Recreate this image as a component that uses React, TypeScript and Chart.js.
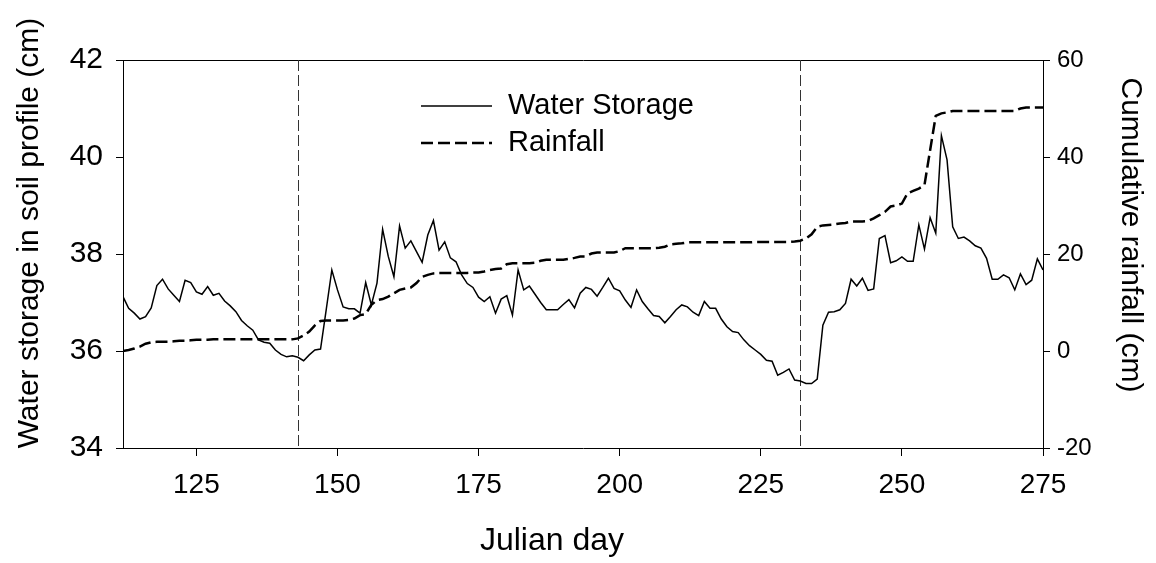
import React, { useEffect, useRef } from "react";
import { Chart, registerables } from "chart.js";

Chart.register(...registerables);

const days = [
  112, 113, 114, 115, 116, 117, 118, 119, 120, 121, 122, 123, 124, 125, 126, 127, 128, 129, 130, 131,
  132, 133, 134, 135, 136, 137, 138, 139, 140, 141, 142, 143, 144, 145, 146, 147, 148, 149, 150, 151,
  152, 153, 154, 155, 156, 157, 158, 159, 160, 161, 162, 163, 164, 165, 166, 167, 168, 169, 170, 171,
  172, 173, 174, 175, 176, 177, 178, 179, 180, 181, 182, 183, 184, 185, 186, 187, 188, 189, 190, 191,
  192, 193, 194, 195, 196, 197, 198, 199, 200, 201, 202, 203, 204, 205, 206, 207, 208, 209, 210, 211,
  212, 213, 214, 215, 216, 217, 218, 219, 220, 221, 222, 223, 224, 225, 226, 227, 228, 229, 230, 231,
  232, 233, 234, 235, 236, 237, 238, 239, 240, 241, 242, 243, 244, 245, 246, 247, 248, 249, 250, 251,
  252, 253, 254, 255, 256, 257, 258, 259, 260, 261, 262, 263, 264, 265, 266, 267, 268, 269, 270, 271,
  272, 273, 274, 275,
];

const waterStorage = [
  37.12, 36.88, 36.78, 36.66, 36.71, 36.89, 37.35, 37.48, 37.28, 37.15, 37.02, 37.46, 37.41, 37.22, 37.17, 37.33, 37.15, 37.19, 37.03, 36.93,
  36.81, 36.63, 36.52, 36.43, 36.23, 36.18, 36.16, 36.02, 35.93, 35.88, 35.90, 35.87, 35.80, 35.92, 36.02, 36.04, 36.85, 37.67, 37.26, 36.91,
  36.87, 36.87, 36.78, 37.41, 36.95, 37.40, 38.51, 37.95, 37.53, 38.58, 38.12, 38.27, 38.05, 37.83, 38.39, 38.69, 38.08, 38.25, 37.92, 37.84,
  37.57, 37.39, 37.31, 37.11, 37.02, 37.12, 36.78, 37.07, 37.14, 36.74, 37.67, 37.26, 37.34, 37.17, 37.00, 36.85, 36.85, 36.85, 36.96, 37.06,
  36.89, 37.19, 37.31, 37.27, 37.13, 37.31, 37.50, 37.29, 37.24, 37.05, 36.90, 37.26, 37.02, 36.87, 36.73, 36.71, 36.58, 36.71, 36.85, 36.95,
  36.91, 36.80, 36.73, 37.02, 36.88, 36.88, 36.66, 36.50, 36.40, 36.38, 36.23, 36.11, 36.02, 35.93, 35.81, 35.79, 35.50, 35.56, 35.63, 35.40,
  35.38, 35.33, 35.33, 35.42, 36.53, 36.80, 36.81, 36.85, 36.98, 37.48, 37.34, 37.50, 37.25, 37.28, 38.32, 38.38, 37.82, 37.86, 37.94, 37.85,
  37.85, 38.60, 38.10, 38.75, 38.43, 40.44, 39.94, 38.56, 38.32, 38.35, 38.27, 38.17, 38.12, 37.91, 37.48, 37.48, 37.57, 37.51, 37.26, 37.59,
  37.37, 37.46, 37.90, 37.67,
];

const rainfall = [
  0.0, 0.2, 0.5, 0.9, 1.5, 1.8, 1.9, 1.9, 1.9, 2.0, 2.1, 2.1, 2.2, 2.3, 2.3, 2.3, 2.4, 2.4, 2.4, 2.4,
  2.4, 2.4, 2.4, 2.4, 2.4, 2.4, 2.4, 2.4, 2.4, 2.4, 2.4, 2.6, 3.2, 4.0, 5.3, 6.2, 6.3, 6.3, 6.3, 6.3,
  6.4, 6.7, 7.4, 7.6, 9.5, 10.5, 10.7, 11.2, 11.9, 12.6, 12.9, 13.1, 14.0, 15.3, 15.7, 16.0, 16.1, 16.1, 16.1, 16.1,
  16.1, 16.1, 16.2, 16.2, 16.4, 16.7, 16.9, 17.0, 17.9, 18.1, 18.1, 18.1, 18.1, 18.2, 18.6, 18.8, 18.8, 18.8, 18.8, 19.0,
  19.2, 19.5, 19.5, 20.1, 20.3, 20.3, 20.3, 20.3, 20.6, 21.2, 21.2, 21.2, 21.2, 21.2, 21.2, 21.3, 21.5, 22.0, 22.1, 22.2,
  22.4, 22.4, 22.4, 22.4, 22.4, 22.4, 22.4, 22.4, 22.4, 22.4, 22.4, 22.4, 22.5, 22.5, 22.5, 22.5, 22.5, 22.5, 22.5, 22.6,
  22.75, 23.2, 24.05, 25.6, 25.9, 26.0, 26.1, 26.3, 26.4, 26.7, 26.7, 26.7, 26.8, 27.35, 28.0, 28.7, 29.8, 30.0, 30.4, 32.5,
  33.0, 33.5, 34.2, 41.4, 48.5, 49.0, 49.2, 49.5, 49.5, 49.5, 49.5, 49.5, 49.5, 49.5, 49.5, 49.5, 49.5, 49.5, 49.5, 50.0,
  50.2, 50.2, 50.2, 50.2,
];

const xTickValues = [125, 150, 175, 200, 225, 250, 275];
const leftTickValues = [34, 36, 38, 40, 42];
const rightTickValues = [-20, 0, 20, 40, 60];
const markerDays = [143, 232];
const seriesLabels = ["Water Storage", "Rainfall"];
const xTitle = "Julian day";
const leftTitle = "Water storage in soil profile (cm)";
const rightTitle = "Cumulative rainfall (cm)";

const FONT = "'Liberation Sans', Arial, Helvetica, sans-serif";

const markerLinesPlugin = {
  id: "markerLines",
  beforeDatasetsDraw(chart: any) {
    const { ctx, chartArea, scales } = chart;
    ctx.save();
    ctx.strokeStyle = "#333";
    ctx.lineWidth = 1;
    ctx.setLineDash([11, 4]);
    markerDays.forEach((d) => {
      const x = Math.round(scales.x.getPixelForValue(d)) + 0.5;
      ctx.beginPath();
      ctx.moveTo(x, chartArea.top);
      ctx.lineTo(x, chartArea.bottom);
      ctx.stroke();
    });
    ctx.restore();
  },
};

const titlesPlugin = {
  id: "axisTitles",
  afterDraw(chart: any) {
    const { ctx } = chart;
    const draw = (text: string, x: number, y: number, rot: number, size: number) => {
      ctx.save();
      ctx.fillStyle = "#000";
      ctx.font = `${size}px ${FONT}`;
      ctx.textAlign = "center";
      ctx.textBaseline = "middle";
      ctx.translate(x, y);
      ctx.rotate(rot);
      ctx.fillText(text, 0, 0);
      ctx.restore();
    };
    draw(leftTitle, 30, 233, -Math.PI / 2, 30);
    draw(rightTitle, 1130, 235, Math.PI / 2, 30);
    draw(xTitle, 552, 541, 0, 32);
  },
};

const innerLegendPlugin = {
  id: "innerLegend",
  afterDraw(chart: any) {
    const { ctx } = chart;
    const x0 = 421;
    const x1 = 492;
    const tx = 508;
    const rows = [106, 143];
    ctx.save();
    chart.data.datasets.forEach((ds: any, i: number) => {
      const y = rows[i];
      ctx.strokeStyle = ds.borderColor;
      ctx.lineWidth = ds.borderWidth;
      ctx.setLineDash(ds.borderDash || []);
      ctx.beginPath();
      ctx.moveTo(x0, y);
      ctx.lineTo(x1, y);
      ctx.stroke();
      ctx.setLineDash([]);
      ctx.fillStyle = "#000";
      ctx.font = `29px ${FONT}`;
      ctx.textBaseline = "middle";
      ctx.textAlign = "left";
      ctx.fillText(ds.label, tx, y);
    });
    ctx.restore();
  },
};

export default function App() {
  const ref = useRef<HTMLCanvasElement | null>(null);

  useEffect(() => {
    if (!ref.current) return;
    const chart = new Chart(ref.current, {
      type: "line",
      data: {
        datasets: [
          {
            label: seriesLabels[0],
            data: days.map((d, i) => ({ x: d, y: waterStorage[i] })),
            yAxisID: "y",
            borderColor: "#000",
            borderWidth: 1.5,
            pointRadius: 0,
            tension: 0,
            fill: false,
          },
          {
            label: seriesLabels[1],
            data: days.map((d, i) => ({ x: d, y: rainfall[i] })),
            yAxisID: "y2",
            borderColor: "#000",
            borderWidth: 2.5,
            borderDash: [12, 5],
            pointRadius: 0,
            tension: 0,
            fill: false,
          },
        ],
      },
      options: {
        responsive: false,
        animation: false,
        layout: { padding: { top: 60, left: 0, right: 0, bottom: 0 } },
        plugins: { legend: { display: false }, tooltip: { enabled: false } },
        scales: {
          x: {
            type: "linear",
            position: "bottom",
            min: 112,
            max: 275,
            afterBuildTicks: (s: any) => {
              s.ticks = xTickValues.map((v) => ({ value: v }));
            },
            afterFit: (s: any) => {
              s.height = 115;
            },
            grid: { drawOnChartArea: false, color: "#000", tickLength: 8, tickWidth: 1 },
            border: { color: "#000", width: 1 },
            ticks: { color: "#000", font: { family: FONT, size: 28 }, padding: 12, maxRotation: 0, autoSkip: false },
          },
          xTop: {
            type: "linear",
            position: "top",
            min: 112,
            max: 275,
            ticks: { display: false },
            grid: { display: false, drawTicks: false },
            border: { display: true, color: "#000", width: 1 },
            afterFit: (s: any) => {
              s.height = 0;
            },
          },
          y: {
            type: "linear",
            position: "left",
            min: 34,
            max: 42,
            afterBuildTicks: (s: any) => {
              s.ticks = leftTickValues.map((v) => ({ value: v }));
            },
            afterFit: (s: any) => {
              s.width = 123;
            },
            grid: { drawOnChartArea: false, color: "#000", tickLength: 7, tickWidth: 1 },
            border: { color: "#000", width: 1 },
            ticks: { color: "#000", font: { family: FONT, size: 30 }, padding: 13 },
          },
          y2: {
            type: "linear",
            position: "right",
            min: -20,
            max: 60,
            afterBuildTicks: (s: any) => {
              s.ticks = rightTickValues.map((v) => ({ value: v }));
            },
            afterFit: (s: any) => {
              s.width = 113;
            },
            grid: { drawOnChartArea: false, color: "#000", tickLength: 7, tickWidth: 1 },
            border: { color: "#000", width: 1 },
            ticks: { color: "#000", font: { family: FONT, size: 24 }, padding: 7 },
          },
        },
      },
      plugins: [markerLinesPlugin, innerLegendPlugin, titlesPlugin],
    } as any);
    return () => chart.destroy();
  }, []);

  return (
    <div style={{ position: "fixed", left: 0, top: 0, width: 1156, height: 563, background: "#fff" }}>
      <canvas ref={ref} width={1156} height={563} />
    </div>
  );
}
